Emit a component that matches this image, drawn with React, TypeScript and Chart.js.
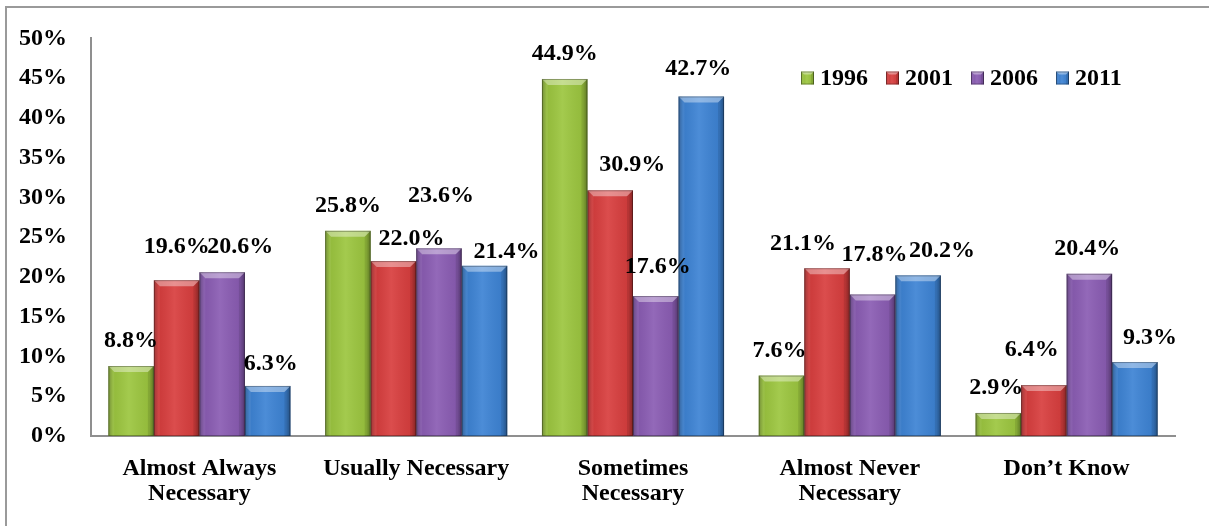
import React, { useEffect, useRef } from "react";
import { Chart, registerables } from "chart.js";

Chart.register(...registerables);

// Survey answers by year (percent of respondents)
const categories: (string | string[])[] = [
  ["Almost Always", "Necessary"],
  "Usually Necessary",
  ["Sometimes", "Necessary"],
  ["Almost Never", "Necessary"],
  "Don’t Know",
];
const seriesNames = ["1996", "2001", "2006", "2011"];
const values1996 = [8.8, 25.8, 44.9, 7.6, 2.9];
const values2001 = [19.6, 22.0, 30.9, 21.1, 6.4];
const values2006 = [20.6, 23.6, 17.6, 17.8, 20.4];
const values2011 = [6.3, 21.4, 42.7, 20.2, 9.3];
const yTickValues = [0, 5, 10, 15, 20, 25, 30, 35, 40, 45, 50];

const seriesColors = ["#9cc63f", "#d83e3e", "#8a5cb3", "#3d83d4"];

// Hand placement of value labels (dx, dy in px) so that neighbours don't collide
const labelNudge: number[][][] = [
  [[0, 0], [0, 0], [0, 0], [-2, 0], [-2, 0]],
  [[0, -8], [18, 3], [22, 0], [-24, 1], [-12, -10]],
  [[18, 0], [2, -28], [2, -4], [2, -15], [-2, 0]],
  [[3, 3], [22, 11], [-3, -3], [24, 0], [15, 1]],
];

const FONT = "'Liberation Serif', 'Times New Roman', Times, serif";

function drawBevelBox(
  ctx: CanvasRenderingContext2D,
  x0: number,
  top: number,
  w: number,
  h: number,
  bevel: number
) {
  const x1 = x0 + w;
  const bottom = top + h;
  const b = Math.max(0, Math.min(bevel, h / 2, w / 2));

  const g = ctx.createLinearGradient(x0, 0, x1, 0);
  g.addColorStop(0, "rgba(0,0,0,0.30)");
  g.addColorStop(0.1, "rgba(0,0,0,0.06)");
  g.addColorStop(0.45, "rgba(255,255,255,0.08)");
  g.addColorStop(0.9, "rgba(0,0,0,0.06)");
  g.addColorStop(1, "rgba(0,0,0,0.32)");
  ctx.fillStyle = g;
  ctx.fillRect(x0, top, w, h);

  // top facet
  ctx.beginPath();
  ctx.moveTo(x0, top);
  ctx.lineTo(x1, top);
  ctx.lineTo(x1 - b, top + b);
  ctx.lineTo(x0 + b, top + b);
  ctx.closePath();
  ctx.fillStyle = "rgba(255,255,255,0.38)";
  ctx.fill();

  // left facet
  ctx.beginPath();
  ctx.moveTo(x0, top);
  ctx.lineTo(x0 + b, top + b);
  ctx.lineTo(x0 + b, bottom);
  ctx.lineTo(x0, bottom);
  ctx.closePath();
  ctx.fillStyle = "rgba(255,255,255,0.06)";
  ctx.fill();

  // right facet
  ctx.beginPath();
  ctx.moveTo(x1, top);
  ctx.lineTo(x1 - b, top + b);
  ctx.lineTo(x1 - b, bottom);
  ctx.lineTo(x1, bottom);
  ctx.closePath();
  ctx.fillStyle = "rgba(0,0,0,0.10)";
  ctx.fill();

  ctx.strokeStyle = "rgba(0,0,0,0.30)";
  ctx.lineWidth = 1;
  ctx.strokeRect(x0 + 0.5, top + 0.5, w - 1, h - 1);
}

const bevelPlugin = {
  id: "bevelBars",
  afterDatasetsDraw(chart: any) {
    const ctx: CanvasRenderingContext2D = chart.ctx;
    chart.data.datasets.forEach((_ds: any, i: number) => {
      const meta = chart.getDatasetMeta(i);
      meta.data.forEach((bar: any) => {
        const { x, y, base, width } = bar.getProps(["x", "y", "base", "width"], true);
        const top = Math.min(y, base);
        const h = Math.abs(base - y);
        ctx.save();
        drawBevelBox(ctx, x - width / 2, top, width, h, 6);
        ctx.restore();
      });
    });
  },
};

const valueLabelPlugin = {
  id: "valueLabels",
  afterDatasetsDraw(chart: any) {
    const ctx: CanvasRenderingContext2D = chart.ctx;
    ctx.save();
    ctx.font = `bold 24px ${FONT}`;
    ctx.fillStyle = "#000";
    ctx.textAlign = "center";
    ctx.textBaseline = "middle";
    chart.data.datasets.forEach((ds: any, i: number) => {
      const meta = chart.getDatasetMeta(i);
      meta.data.forEach((bar: any, j: number) => {
        const v = ds.data[j] as number;
        const [dx, dy] = labelNudge[i][j];
        ctx.fillText(`${v.toFixed(1)}%`, bar.x + dx, bar.y - 25 + dy);
      });
    });
    ctx.restore();
  },
};

const legendPlugin = {
  id: "insideLegend",
  afterDraw(chart: any) {
    const ctx: CanvasRenderingContext2D = chart.ctx;
    ctx.save();
    ctx.font = `bold 24px ${FONT}`;
    ctx.textBaseline = "middle";
    ctx.textAlign = "left";
    let lx = 801;
    const cy = 78;
    seriesNames.forEach((name, i) => {
      ctx.fillStyle = seriesColors[i];
      ctx.fillRect(lx, cy - 6.5, 13, 13);
      drawBevelBox(ctx, lx, cy - 6.5, 13, 13, 3);
      ctx.fillStyle = "#000";
      ctx.fillText(name, lx + 19, cy + 1);
      lx += 19 + ctx.measureText(name).width + 18;
    });
    ctx.restore();
  },
};

export default function App() {
  const canvasRef = useRef<HTMLCanvasElement | null>(null);

  useEffect(() => {
    const canvas = canvasRef.current;
    if (!canvas) return;
    const allValues = [values1996, values2001, values2006, values2011];
    const chart = new Chart(canvas, {
      type: "bar",
      data: {
        labels: categories as any,
        datasets: allValues.map((vals, i) => ({
          label: seriesNames[i],
          data: vals,
          backgroundColor: seriesColors[i],
          borderWidth: 0,
          barPercentage: 1,
          categoryPercentage: 0.84,
        })),
      },
      options: {
        responsive: false,
        animation: false,
        layout: { padding: { top: 34, right: 34, left: 0, bottom: 0 } },
        plugins: {
          legend: { display: false },
          tooltip: { enabled: false },
        },
        scales: {
          x: {
            grid: { display: false, drawTicks: false },
            border: { display: true, color: "#8f8f8f", width: 2 },
            ticks: {
              color: "#000",
              padding: 20,
              maxRotation: 0,
              autoSkip: false,
              font: { family: FONT, size: 24, weight: "bold", lineHeight: 1.05 },
            },
            afterFit(scale: any) {
              scale.height = 90;
            },
          },
          y: {
            min: 0,
            max: 50,
            grid: { display: false, drawTicks: false },
            border: { display: true, color: "#8f8f8f", width: 2 },
            afterBuildTicks(scale: any) {
              scale.ticks = yTickValues.map((v) => ({ value: v }));
            },
            ticks: {
              color: "#000",
              padding: 24,
              font: { family: FONT, size: 24, weight: "bold" },
              callback: (v: any) => `${v}%`,
            },
            afterFit(scale: any) {
              scale.width = 91;
            },
          },
        },
      },
      plugins: [bevelPlugin, valueLabelPlugin, legendPlugin],
    });
    return () => chart.destroy();
  }, []);

  return (
    <div
      style={{
        position: "fixed",
        left: 0,
        top: 0,
        width: 1209,
        height: 526,
        overflow: "hidden",
        background: "#fff",
      }}
    >
      <div
        style={{
          position: "absolute",
          left: 5,
          top: 6,
          width: 1240,
          height: 560,
          border: "2px solid #9a9a9a",
          boxSizing: "border-box",
        }}
      />
      <canvas
        ref={canvasRef}
        width={1209}
        height={526}
        style={{ position: "absolute", left: 0, top: 0 }}
      />
    </div>
  );
}
